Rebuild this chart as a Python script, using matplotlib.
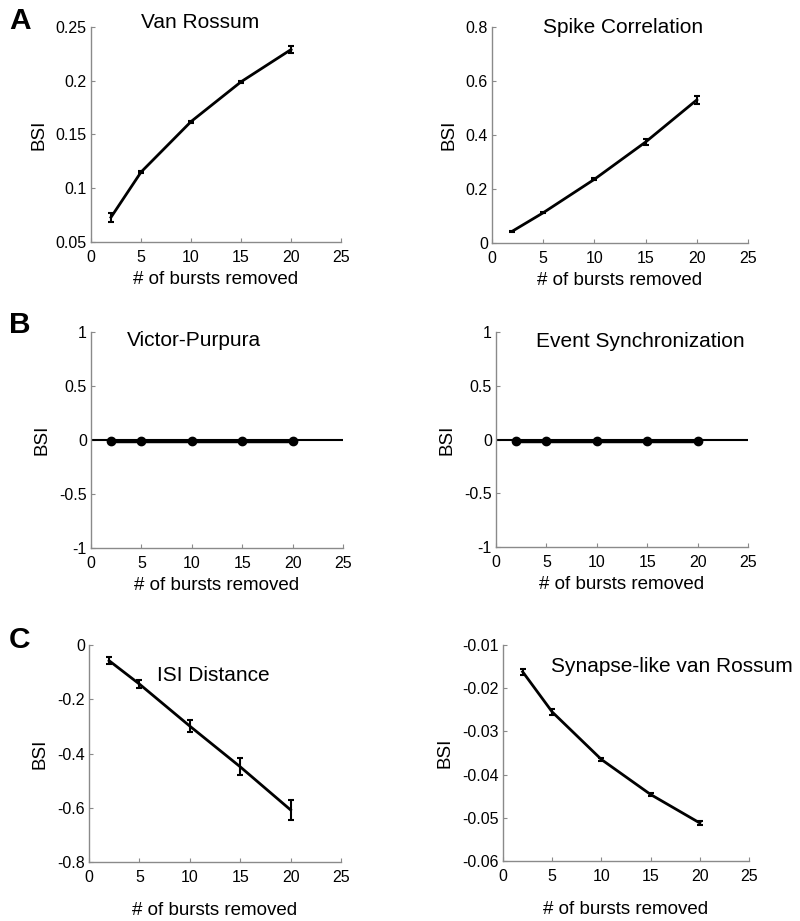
import matplotlib.pyplot as plt
import numpy as np

plt.rcParams['font.family'] = ['Liberation Sans', 'DejaVu Sans']

# bursts removed (same for every panel)
x = [2, 5, 10, 15, 20]

van_rossum = [0.073, 0.115, 0.162, 0.199, 0.229]
van_rossum_err = [0.004, 0.001, 0.001, 0.001, 0.003]

spike_corr = [0.044, 0.112, 0.236, 0.374, 0.530]
spike_corr_err = [0.002, 0.002, 0.004, 0.010, 0.016]

victor = [-0.01, -0.01, -0.01, -0.01, -0.01]
event_sync = [-0.01, -0.01, -0.01, -0.01, -0.01]

isi = [-0.058, -0.144, -0.299, -0.449, -0.608]
isi_err = [0.012, 0.016, 0.021, 0.032, 0.037]

syn_vr = [-0.0162, -0.0255, -0.0365, -0.0446, -0.0512]
syn_vr_err = [0.0007, 0.0007, 0.0004, 0.0004, 0.0005]

xticks = [0, 5, 10, 15, 20, 25]

W, H = 800, 921
fig = plt.figure(figsize=(W / 100, H / 100), dpi=100)


def make_ax(left, top, right, bottom):
    # pixel box -> figure fraction
    return fig.add_axes([left / W, 1 - bottom / H, (right - left) / W, (bottom - top) / H])


def style(ax, ylim, yticks, xlabpad):
    for s in ['top', 'right']:
        ax.spines[s].set_visible(False)
    for s in ['left', 'bottom']:
        ax.spines[s].set_color('#8a8a8a')
        ax.spines[s].set_linewidth(1.0)
    ax.set_xlim(0, 25)
    ax.set_ylim(*ylim)
    ax.set_xticks(xticks)
    ax.set_xticklabels([str(t) for t in xticks])
    ax.set_yticks(yticks)
    ax.set_yticklabels(['%g' % v for v in yticks])
    ax.tick_params(direction='in', length=3, color='#8a8a8a', labelsize=11.5)
    ax.tick_params(axis='x', pad=6)
    ax.tick_params(axis='y', pad=3)
    ax.set_xlabel('# of bursts removed', fontsize=13.5, labelpad=xlabpad)
    ax.set_ylabel('BSI', fontsize=13.5, labelpad=6)


def errline(ax, y, yerr):
    ax.errorbar(x, y, yerr=yerr, color='black', lw=2, elinewidth=1.5, capsize=2.5, capthick=1.5)


# A
ax = make_ax(91, 27, 341, 242)
errline(ax, van_rossum, van_rossum_err)
style(ax, (0.05, 0.25), [0.05, 0.1, 0.15, 0.2, 0.25], 4)
ax.text(0.436, 1.02, 'Van Rossum', transform=ax.transAxes, ha='center', va='center', fontsize=15)

ax = make_ax(492, 27, 748, 243)
errline(ax, spike_corr, spike_corr_err)
style(ax, (0, 0.8), [0, 0.2, 0.4, 0.6, 0.8], 4)
ax.text(0.512, 0.998, 'Spike Correlation', transform=ax.transAxes, ha='center', va='center', fontsize=15)

# B
ax = make_ax(91, 332, 343, 548)
ax.axhline(0, color='black', lw=1.5)
ax.plot(x, victor, color='black', lw=2.5, marker='o', ms=6)
style(ax, (-1, 1), [-1, -0.5, 0, 0.5, 1], 4)
ax.text(0.409, 0.962, 'Victor-Purpura', transform=ax.transAxes, ha='center', va='center', fontsize=15)

ax = make_ax(496, 332, 748, 547)
ax.axhline(0, color='black', lw=1.5)
ax.plot(x, event_sync, color='black', lw=2.5, marker='o', ms=6)
style(ax, (-1, 1), [-1, -0.5, 0, 0.5, 1], 4)
ax.text(0.574, 0.958, 'Event Synchronization', transform=ax.transAxes, ha='center', va='center', fontsize=15)

# C
ax = make_ax(89, 645, 341, 862)
errline(ax, isi, isi_err)
style(ax, (-0.8, 0), [-0.8, -0.6, -0.4, -0.2, 0], 12)
ax.text(0.492, 0.858, 'ISI Distance', transform=ax.transAxes, ha='center', va='center', fontsize=15)

ax = make_ax(503, 645, 749, 861)
errline(ax, syn_vr, syn_vr_err)
style(ax, (-0.06, -0.01), [-0.06, -0.05, -0.04, -0.03, -0.02, -0.01], 12)
ax.text(0.686, 0.899, 'Synapse-like van Rossum', transform=ax.transAxes, ha='center', va='center', fontsize=15)

# panel letters
for letter, yy in [('A', 21), ('B', 325), ('C', 640)]:
    fig.text(20 / W, 1 - yy / H, letter, fontsize=21.5, fontweight='bold', ha='center', va='center')

fig.savefig('out.png', dpi=100)
